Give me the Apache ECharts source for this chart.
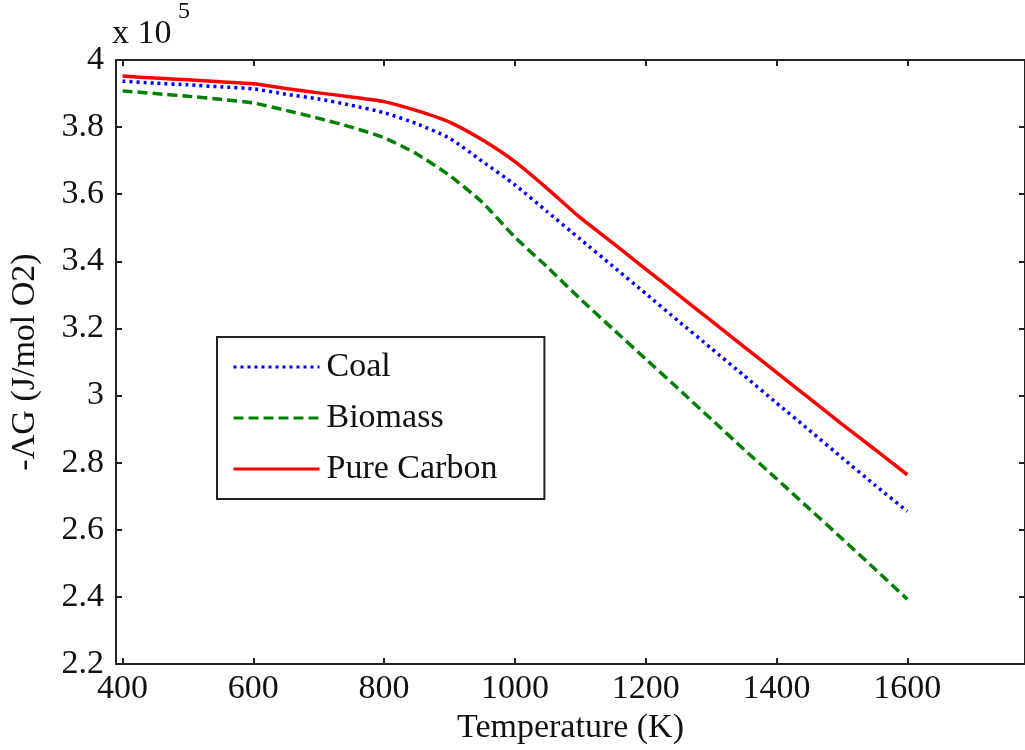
<!DOCTYPE html>
<html>
<head>
<meta charset="utf-8">
<title>Free energy vs temperature</title>
<script src="https://cdn.jsdelivr.net/npm/echarts@6/dist/echarts.min.js"></script>
<style>
  html, body { margin: 0; padding: 0; background: #fff; }
  #chart { width: 1025px; height: 750px; }
</style>
</head>
<body>
<div id="chart"></div>
<script>
// Temperature grid (K)
const temperatures = [400, 450, 500, 550, 600, 650, 700, 750, 800, 850, 900, 950, 1000,
  1050, 1100, 1150, 1200, 1250, 1300, 1350, 1400, 1450, 1500, 1550, 1600];

// -ΔG in units of 1e5 J/mol O2
const coal = [3.937, 3.931, 3.926, 3.92, 3.914, 3.898, 3.884, 3.865, 3.843, 3.81, 3.767, 3.698, 3.628,
  3.547, 3.466, 3.385, 3.304, 3.222, 3.141, 3.06, 2.978, 2.897, 2.815, 2.734, 2.655];
const biomass = [3.908, 3.9, 3.892, 3.883, 3.872, 3.85, 3.826, 3.8, 3.768, 3.72, 3.656, 3.576, 3.472,
  3.382, 3.288, 3.198, 3.109, 3.02, 2.93, 2.84, 2.752, 2.663, 2.574, 2.484, 2.393];
const pureCarbon = [3.952, 3.946, 3.941, 3.935, 3.929, 3.915, 3.902, 3.89, 3.876, 3.849, 3.815, 3.762, 3.697,
  3.616, 3.53, 3.454, 3.377, 3.3, 3.223, 3.146, 3.069, 2.992, 2.915, 2.84, 2.764];

const seriesNames = ['Coal', 'Biomass', 'Pure Carbon'];
const xTicks = [400, 600, 800, 1000, 1200, 1400, 1600];

const FONT = 'Liberation Serif, Times New Roman, serif';
const INK = '#111';

const pairs = arr => temperatures.map((t, i) => [t, arr[i]]);

const chart = echarts.init(document.getElementById('chart'), null, { renderer: 'canvas' });

const frameAxis = {
  axisLine: { show: true, lineStyle: { color: '#222', width: 2 } },
  splitLine: { show: false }
};

chart.setOption({
  animation: false,
  backgroundColor: '#fff',
  grid: { left: 113, top: 60, width: 914, height: 604, containLabel: false },
  xAxis: [
    Object.assign({
      type: 'value', position: 'bottom', min: 390, max: 1780,
      name: 'Temperature (K)', nameLocation: 'middle', nameGap: 30,
      nameTextStyle: { fontFamily: FONT, fontSize: 34, color: INK },
      axisTick: { inside: true, length: 6, customValues: xTicks, lineStyle: { color: '#222', width: 2 } },
      axisLabel: {
        customValues: xTicks, margin: 8, fontFamily: FONT, fontSize: 34, color: INK,
        formatter: v => String(v)
      }
    }, frameAxis),
    Object.assign({
      type: 'value', position: 'top', min: 390, max: 1780,
      axisTick: { inside: true, length: 6, customValues: xTicks, lineStyle: { color: '#222', width: 2 } },
      axisLabel: { show: false }
    }, frameAxis)
  ],
  yAxis: [
    Object.assign({
      type: 'value', position: 'left', min: 2.2, max: 4, interval: 0.2,
      name: '-ΛG (J/mol O2)', nameLocation: 'middle', nameGap: 74, nameRotate: 90,
      nameTextStyle: { fontFamily: FONT, fontSize: 34, color: INK },
      axisTick: { inside: true, length: 6, lineStyle: { color: '#222', width: 2 } },
      axisLabel: {
        margin: 12, fontFamily: FONT, fontSize: 34, color: INK,
        formatter: v => String(+v.toFixed(1))
      }
    }, frameAxis),
    Object.assign({
      type: 'value', position: 'right', min: 2.2, max: 4, interval: 0.2,
      axisTick: { inside: true, length: 6, lineStyle: { color: '#222', width: 2 } },
      axisLabel: { show: false }
    }, frameAxis)
  ],
  legend: {
    orient: 'vertical',
    left: 217, top: 337,
    data: seriesNames,
    itemWidth: 86, itemHeight: 30, itemGap: 17,
    padding: [13, 47, 13, 15],
    backgroundColor: '#fff',
    borderColor: '#222', borderWidth: 2, borderRadius: 0,
    itemStyle: { opacity: 0, borderWidth: 0 },
    lineStyle: { width: 3 },
    textStyle: { fontFamily: FONT, fontSize: 34, color: INK, padding: [0, 0, 0, 2] },
    selectedMode: false
  },
  graphic: [
    {
      type: 'text', left: 112, top: 17,
      style: { text: 'x 10', font: '34px ' + FONT, fill: INK }
    },
    {
      type: 'text', left: 178, top: 0,
      style: { text: '5', font: '24px ' + FONT, fill: INK }
    }
  ],
  series: [
    {
      name: seriesNames[0], type: 'line', data: pairs(coal),
      symbol: 'none', smooth: 0.2,
      lineStyle: { color: '#0000ff', width: 3.5, type: [3, 4] },
      itemStyle: { color: '#0000ff' }, z: 3
    },
    {
      name: seriesNames[1], type: 'line', data: pairs(biomass),
      symbol: 'none', smooth: 0.2,
      lineStyle: { color: '#008000', width: 3.5, type: [10, 5] },
      itemStyle: { color: '#008000' }, z: 2
    },
    {
      name: seriesNames[2], type: 'line', data: pairs(pureCarbon),
      symbol: 'none', smooth: 0.2,
      lineStyle: { color: '#ff0000', width: 3.5, type: 'solid' },
      itemStyle: { color: '#ff0000' }, z: 4
    }
  ]
});
</script>
</body>
</html>
